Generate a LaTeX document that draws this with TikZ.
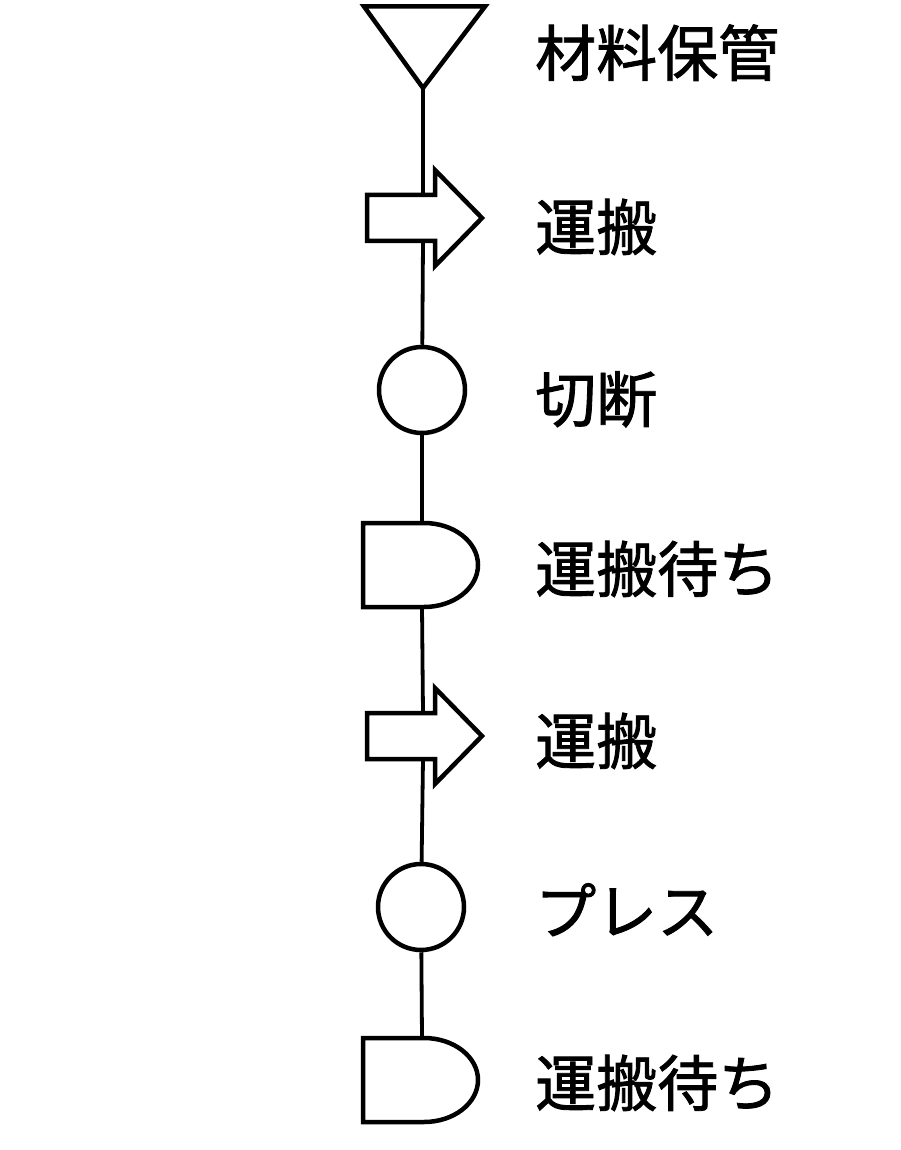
\documentclass[tikz,border=0pt]{standalone}
\usepackage{fontspec}
\newfontfamily\jpfont[FakeBold=1.4]{Noto Sans CJK JP}

\tikzset{
  sym/.style={draw, line width=4.5pt, fill=white, line join=miter},
  flow/.style={line width=3.8pt},
  lbl/.style={anchor=base west, inner sep=0pt, font=\jpfont\fontsize{61}{70}\selectfont}
}

\begin{document}
\begin{tikzpicture}[x=1pt, y=-1pt]
  \useasboundingbox (0,0) rectangle (900,1150);
  % storage
  \draw[sym] (364,6.5) -- (485,6.5) -- (423,88) -- cycle;
  \coordinate (store) at (423,88);
  % transport
  \foreach \n/\y in {move1/218, move2/736} {
    \draw[sym] (367,\y-23) -- (435,\y-23) -- (435,\y-48) -- (482,\y)
      -- (435,\y+48) -- (435,\y+23) -- (367,\y+23) -- cycle;
    \coordinate (\n-in) at (423,\y-23);
    \coordinate (\n-out) at (423,\y+23);
  }
  % operations
  \node[sym, circle, minimum size=86, inner sep=0pt] (cut) at (422,390) {};
  \node[sym, circle, minimum size=86, inner sep=0pt] (press) at (421,907) {};
  % delays
  \foreach \n/\y in {wait1/565, wait2/1080} {
    \draw[sym] (424,\y-42) -- (363,\y-42) -- (363,\y+42) -- (424,\y+42)
      arc[start angle=-90, end angle=90, x radius=54pt, y radius=42pt] -- cycle;
    \coordinate (\n-in) at (422,\y-42);
    \coordinate (\n-out) at (422,\y+42);
  }
  % flow line
  \draw[flow] (store) -- (move1-in);
  \draw[flow] (move1-out) -- (cut);
  \draw[flow] (cut) -- (wait1-in);
  \draw[flow] (wait1-out) -- (move2-in);
  \draw[flow] (move2-out) -- (press);
  \draw[flow] (press) -- (wait2-in);
  % labels
  \foreach \n/\y/\t in {store/76/材料保管, move1/250/運搬, cut/422/切断,
      wait1/592/運搬待ち, move2/764/運搬, press/934/プレス, wait2/1106/運搬待ち}
    \node[lbl] (\n-lbl) at (535,\y) {\t};
\end{tikzpicture}
\end{document}
